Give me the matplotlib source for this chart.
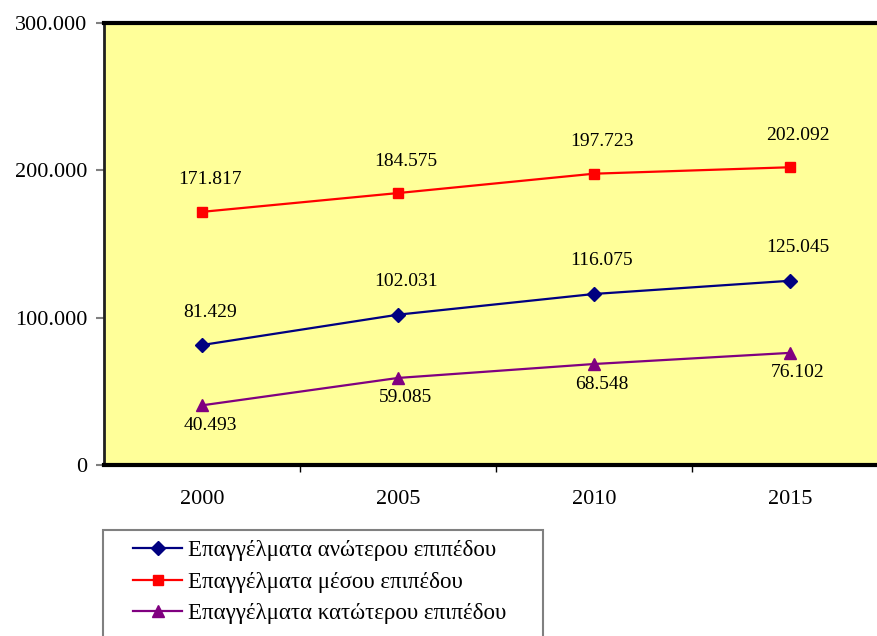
import matplotlib.pyplot as plt
from matplotlib.patches import Rectangle

years = ["2000", "2005", "2010", "2015"]
upper = [81429, 102031, 116075, 125045]
middle = [171817, 184575, 197723, 202092]
lower = [40493, 59085, 68548, 76102]
labels = ["Επαγγέλματα ανώτερου επιπέδου",
          "Επαγγέλματα μέσου επιπέδου",
          "Επαγγέλματα κατώτερου επιπέδου"]
yticks = [0, 100000, 200000, 300000]


def fmt(v):
    # greek thousands separator
    return "{:,}".format(v).replace(",", ".")


plt.rcParams['font.family'] = ['Liberation Serif', 'DejaVu Serif']

W, H = 878, 636
fig = plt.figure(figsize=(W / 100, H / 100), dpi=100)
# plot area runs past the right edge of the picture
ax = fig.add_axes([104 / W, 1 - 465 / H, 784 / W, 442 / H])
ax.set_facecolor('#FFFF99')

x = list(range(len(years)))
series = [(upper, '#000080', 'D', 7, -33),
          (middle, '#FF0000', 's', 7, -32),
          (lower, '#800080', '^', 8, 20)]
for (vals, col, mk, ms, dy), lab in zip(series, labels):
    ax.plot(x, vals, color=col, marker=mk, markersize=ms, linewidth=1.6, label=lab)
    for xi, v in zip(x, vals):
        ax.annotate(fmt(v), (xi, v), xytext=(8, -dy), textcoords='offset pixels',
                    ha='center', va='center', fontsize=14)

ax.set_xlim(-0.5, 3.5)
ax.set_ylim(0, 300000)
ax.set_yticks(yticks)
ax.set_yticklabels([fmt(v) if v else "0" for v in yticks], fontsize=16)
ax.tick_params(axis='y', length=6, width=1.5, color='#808080', pad=6)
ax.set_xticks([0.5, 1.5, 2.5], minor=False)
ax.set_xticklabels([])
ax.set_xticks(x, minor=True)
ax.set_xticklabels(years, minor=True, fontsize=16)
ax.tick_params(axis='x', which='major', length=5, width=1, color='black', direction='out')
ax.tick_params(axis='x', which='minor', length=0, pad=18)

ax.spines['top'].set_linewidth(3)
ax.spines['bottom'].set_linewidth(3)
ax.spines['left'].set_linewidth(2)
ax.spines['left'].set_color('#202020')
ax.spines['right'].set_visible(False)

fig.text(462 / W, 1 - 4 / H, "ΣΥΝΟΛΙΚΟ 2000-2015", ha='center', va='bottom',
         fontsize=16, fontweight='bold')

# legend frame drawn separately so the entries can sit further in
fig.patches.append(Rectangle((103 / W, -0.05), 440 / W, 1 - 530 / H + 0.05,
                             transform=fig.transFigure, facecolor='white',
                             edgecolor='#808080', linewidth=1.5, zorder=0))
leg = fig.legend(loc='upper left', bbox_to_anchor=(124 / W, 1 - 531 / H),
                 fontsize=16.5, frameon=False, handlelength=2.14,
                 handletextpad=0.26, labelspacing=0.45, borderpad=0.4,
                 borderaxespad=0)

fig.savefig("out.png", dpi=100)
